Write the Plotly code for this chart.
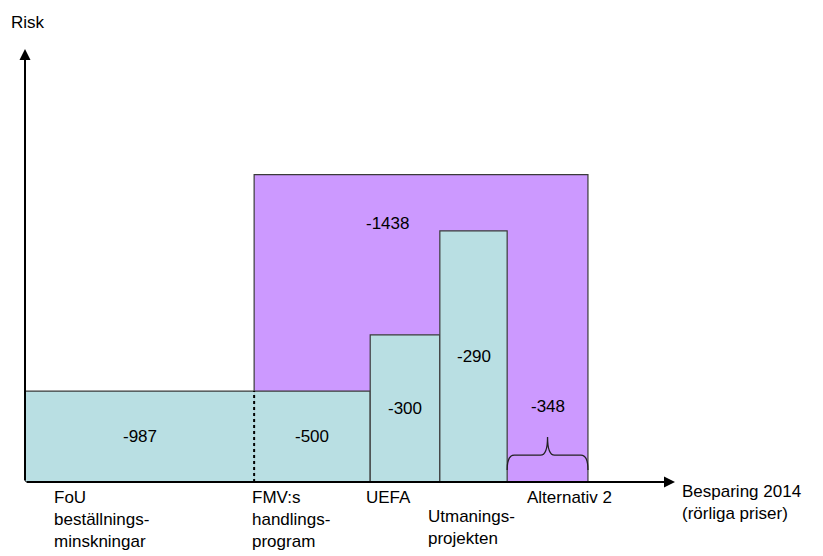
import plotly.graph_objects as go

# Savings per measure (MSEK, 2014) and the relative risk level of each measure
measure_labels = ["FoU<br>beställnings-<br>minskningar", "FMV:s<br>handlings-<br>program",
                  "UEFA", "Utmanings-<br>projekten"]
measure_savings = [-987, -500, -300, -290]
measure_risk = [21, 21, 34, 58]

# Alternative 2: the remaining part and the whole package it belongs to
alt_label = "Alternativ 2"
alt_savings = -348
package_savings = -1438
package_risk = 71

axis_x_title = "Besparing 2014<br>(rörliga priser)"
axis_y_title = "Risk"

TEAL = "#b9dfe3"
PURPLE = "#cc99ff"
EDGE = "#3a3a3a"
FONT = "Liberation Sans, Arial, sans-serif"

X_MAX = 2800
Y_MAX = 100

# Cumulative left/right edges along the savings axis
edges = [0]
for v in measure_savings:
    edges.append(edges[-1] + abs(v))
alt_left = edges[-1]
alt_right = alt_left + abs(alt_savings)
pkg_left = edges[1]
pkg_right = pkg_left + abs(package_savings)

fig = go.Figure()

# Package block (purple) drawn behind the measures
fig.add_trace(go.Scatter(
    x=[pkg_left, pkg_left, pkg_right, pkg_right, pkg_left],
    y=[0, package_risk, package_risk, 0, 0],
    mode="lines", fill="toself", fillcolor=PURPLE,
    line=dict(color=EDGE, width=1.2), hoverinfo="skip", showlegend=False))

# Measure blocks (teal); the outline of each is traced so that the
# closing edge of the fill is the one left without a solid line
for i, (lab, v, r) in enumerate(zip(measure_labels, measure_savings, measure_risk)):
    x0, x1 = edges[i], edges[i + 1]
    if i == 0:
        xs, ys = [x1, x0, x0, x1], [r, r, 0, 0]
    elif i == 1:
        xs, ys = [x0, x1, x1, x0], [0, 0, r, r]
    else:
        xs, ys = [x0, x0, x1, x1, x0], [0, r, r, 0, 0]
    fig.add_trace(go.Scatter(
        x=xs, y=ys, mode="lines", fill="toself", fillcolor=TEAL,
        line=dict(color=EDGE, width=1.2), hoverinfo="skip", showlegend=False))

# Dotted boundary between the first two measures
fig.add_trace(go.Scatter(
    x=[edges[1], edges[1]], y=[0, measure_risk[1]], mode="lines",
    line=dict(color="black", width=2, dash="dot"), hoverinfo="skip", showlegend=False))

annotations = []

def txt(text, x, y, **kw):
    d = dict(text=text, x=x, y=y, xref="x", yref="y", showarrow=False,
             font=dict(family=FONT, size=17, color="black"))
    d.update(kw)
    annotations.append(d)

# Value labels inside the blocks
for i, (v, r) in enumerate(zip(measure_savings, measure_risk)):
    txt(str(v), (edges[i] + edges[i + 1]) / 2, r / 2)
txt(str(package_savings), 1560, 59.6)
txt(str(alt_savings), (alt_left + alt_right) / 2, 17.5)

# Category labels under the axis
label_shift = [27, -4, -6, -14]
label_drop = [0, 0, 0, 19]
for i, lab in enumerate(measure_labels):
    txt(lab, edges[i], 0, xanchor="left", yanchor="top", align="left",
        xshift=label_shift[i], yshift=-4 - label_drop[i])
txt(alt_label, alt_left, 0, xanchor="left", yanchor="top", align="left",
    xshift=18, yshift=-4)

# Axis titles
txt(axis_x_title, X_MAX, 0, xanchor="left", yanchor="top", align="left",
    xshift=5, yshift=2)
txt(axis_y_title, 0, Y_MAX, xanchor="left", yanchor="middle", xshift=-16, yshift=27)

# Axes drawn as arrows
for (x, y) in [(X_MAX, 0), (0, Y_MAX)]:
    annotations.append(dict(x=x, y=y, ax=0, ay=0, xref="x", yref="y", axref="x", ayref="y",
                            text="", showarrow=True, arrowhead=2, arrowsize=1.1,
                            arrowwidth=2, arrowcolor="black"))

# Brace over the Alternativ 2 part
px_x = X_MAX / 650.0
b_lo, b_mid, b_tip = 2.8, 6.2, 10.4
dx = 7 * px_x
mid = (alt_left + alt_right) / 2
brace = (f"M {alt_left},{b_lo} Q {alt_left},{b_mid} {alt_left + dx},{b_mid} "
         f"L {mid - dx},{b_mid} Q {mid},{b_mid} {mid},{b_tip} "
         f"Q {mid},{b_mid} {mid + dx},{b_mid} L {alt_right - dx},{b_mid} "
         f"Q {alt_right},{b_mid} {alt_right},{b_lo}")
fig.add_shape(type="path", path=brace, xref="x", yref="y",
              line=dict(color="#222222", width=1.3))

fig.update_layout(
    width=823, height=556,
    margin=dict(l=25, r=148, t=49, b=74),
    paper_bgcolor="white", plot_bgcolor="white",
    xaxis=dict(range=[0, X_MAX], visible=False, fixedrange=True),
    yaxis=dict(range=[0, Y_MAX], visible=False, fixedrange=True),
    annotations=annotations,
    showlegend=False,
)

fig.write_html("out.html")
